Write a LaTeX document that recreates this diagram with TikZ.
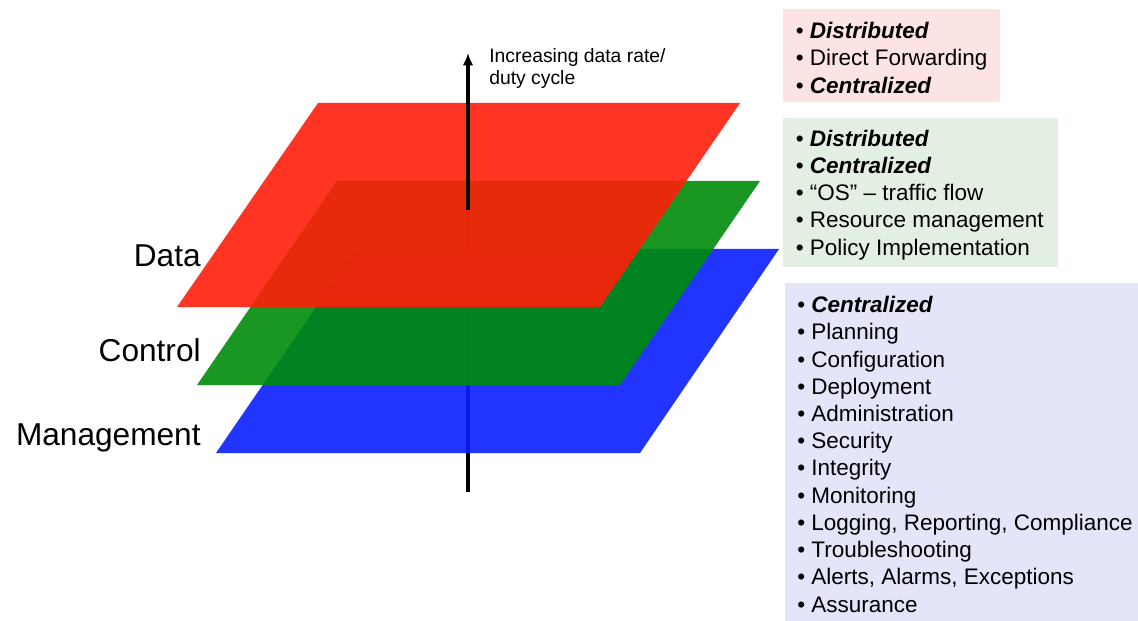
\documentclass[tikz,border=0pt]{standalone}
\usepackage{fontspec}
\setmainfont{Liberation Sans}
\usetikzlibrary{arrows.meta}

\definecolor{dataplane}{RGB}{255,30,10}
\definecolor{controlplane}{RGB}{0,140,10}
\definecolor{mgmtplane}{RGB}{10,30,255}
\definecolor{databg}{RGB}{252,228,228}
\definecolor{controlbg}{RGB}{227,239,227}
\definecolor{mgmtbg}{RGB}{229,229,250}

\begin{document}
\begin{tikzpicture}%
        [x=0.02cm, y=-0.02cm,
        plane/.style={fill opacity=0.9, draw=none},
        axis/.style={line width=2pt, color=black},
        layer/.style={anchor=base east, inner sep=0pt, font=\fontsize{18}{21}\selectfont},
        note/.style={anchor=north west, inner sep=0pt, align=left, font=\fontsize{11}{12.5}\selectfont},
        infobox/.style={anchor=north west, inner sep=0pt, draw=none},
        listtext/.style={anchor=west, inner sep=0pt, yshift=-0.04cm, align=left, font=\fontsize{12.8}{15.5}\selectfont}]
%
\useasboundingbox (0,0) rectangle (1138,621);
%%
%% Corners of the planes:
%%
\coordinate (data-nw) at (318,103);
\coordinate (data-ne) at (740,103);
\coordinate (data-se) at (600,307);
\coordinate (data-sw) at (177,307);
\coordinate (control-nw) at (337,181);
\coordinate (control-ne) at (760,181);
\coordinate (control-se) at (620,385);
\coordinate (control-sw) at (197,385);
\coordinate (mgmt-nw) at (356,249);
\coordinate (mgmt-ne) at (779,249);
\coordinate (mgmt-se) at (640,453);
\coordinate (mgmt-sw) at (216,453);
%%
\coordinate (axisfoot) at (468,492);
\coordinate (axispierce) at (468,210);
\coordinate (axistip) at (468,53);
%%
%% Axis behind the planes
%%
\draw[axis] (axisfoot) -- (axispierce);
%%
%% Drawing the planes
%%
\fill[plane, mgmtplane] (mgmt-nw) -- (mgmt-ne) -- (mgmt-se) -- (mgmt-sw) -- cycle;
\fill[plane, controlplane] (control-nw) -- (control-ne) -- (control-se) -- (control-sw) -- cycle;
\fill[plane, dataplane] (data-nw) -- (data-ne) -- (data-se) -- (data-sw) -- cycle;
%%
%% Axis in the front
%%
\draw[axis, -{Latex[length=7pt, width=6pt]}] (axispierce) -- (axistip);
\node[note] (axislabel) at (489,48) {Increasing data rate/\\duty cycle};
%%
%% Layer names
%%
\node[layer] (datalabel) at (201,267) {Data};
\node[layer] (controllabel) at (201,361) {Control};
\node[layer] (mgmtlabel) at (201,445) {Management};
%%
%% Boxes on the right
%%
\node[infobox, fill=databg, minimum width=4.34cm, minimum height=1.86cm] (databox) at (783,9) {};
\node[listtext] (datalist) at ([xshift=0.25cm]databox.west)
  {\textbullet\ \textbf{\textit{Distributed}}\\
   \textbullet\ Direct Forwarding\\
   \textbullet\ \textbf{\textit{Centralized}}};

\node[infobox, fill=controlbg, minimum width=5.5cm, minimum height=2.98cm] (controlbox) at (783,118) {};
\node[listtext] (controllist) at ([xshift=0.25cm]controlbox.west)
  {\textbullet\ \textbf{\textit{Distributed}}\\
   \textbullet\ \textbf{\textit{Centralized}}\\
   \textbullet\ “OS” – traffic flow\\
   \textbullet\ Resource management\\
   \textbullet\ Policy Implementation};

\node[infobox, fill=mgmtbg, minimum width=7.06cm, minimum height=6.76cm] (mgmtbox) at (785,283) {};
\node[listtext] (mgmtlist) at ([xshift=0.24cm]mgmtbox.west)
  {\textbullet\ \textbf{\textit{Centralized}}\\
   \textbullet\ Planning\\
   \textbullet\ Configuration\\
   \textbullet\ Deployment\\
   \textbullet\ Administration\\
   \textbullet\ Security\\
   \textbullet\ Integrity\\
   \textbullet\ Monitoring\\
   \textbullet\ Logging, Reporting, Compliance\\
   \textbullet\ Troubleshooting\\
   \textbullet\ Alerts, Alarms, Exceptions\\
   \textbullet\ Assurance};

\end{tikzpicture}
\end{document}
